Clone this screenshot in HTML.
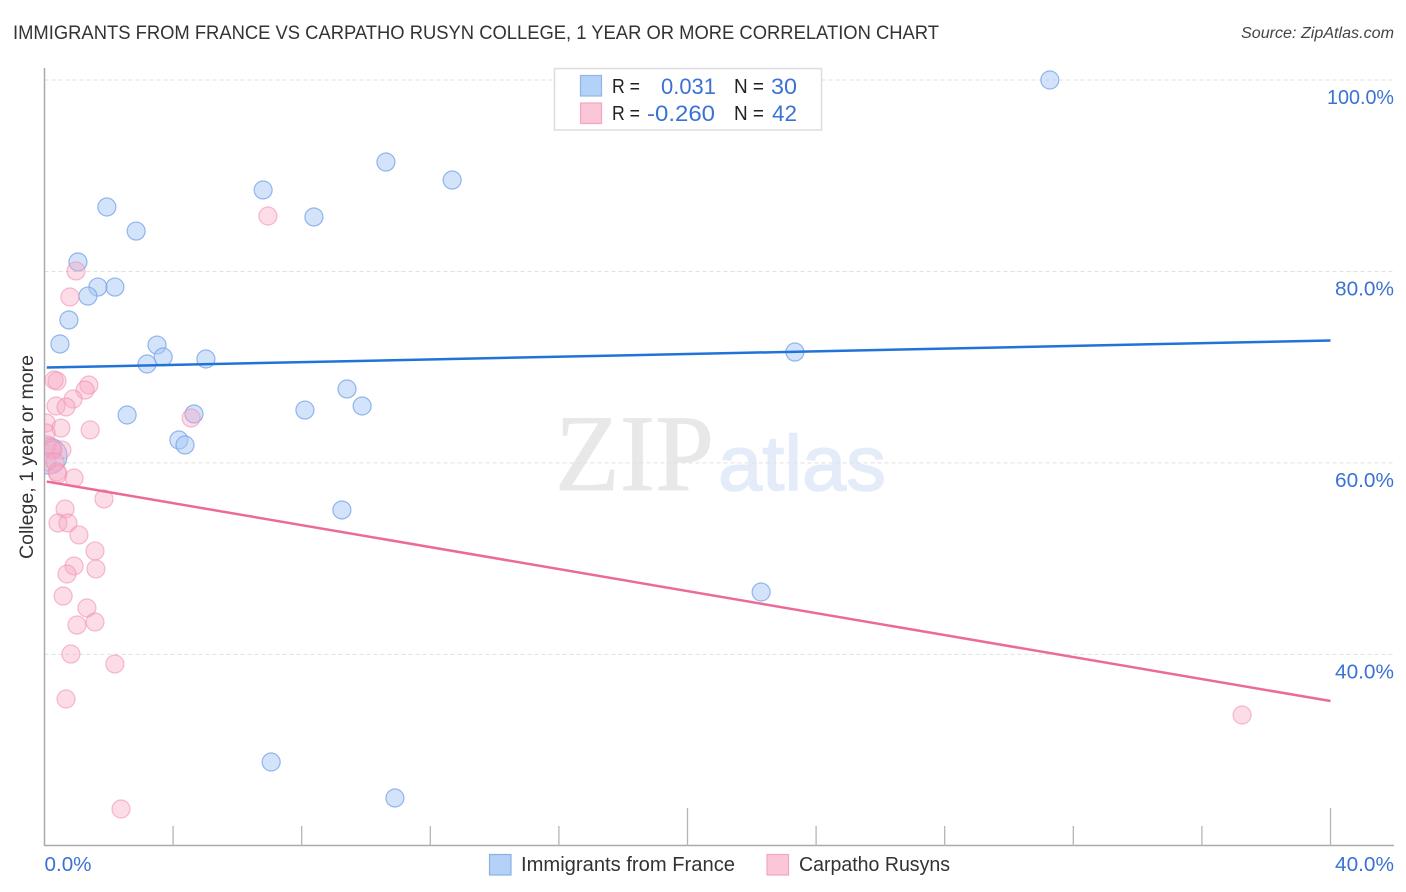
<!DOCTYPE html>
<html>
<head>
<meta charset="utf-8">
<title>Immigrants from France vs Carpatho Rusyn College Correlation Chart</title>
<style>
html,body{margin:0;padding:0;background:#fff;}
svg{display:block;}
text{font-family:"Liberation Sans",sans-serif;}
</style>
</head>
<body>
<svg id="chart" xmlns="http://www.w3.org/2000/svg" width="1406" height="892" viewBox="0 0 1406 892">
  <defs><clipPath id="plot-clip"><rect x="45" y="60" width="1350" height="785"/></clipPath></defs>
  <rect x="0" y="0" width="1406" height="892" fill="#fff"/>
  <text x="13" y="39" font-size="19.5" fill="#333" textLength="926" lengthAdjust="spacingAndGlyphs">IMMIGRANTS FROM FRANCE VS CARPATHO RUSYN COLLEGE, 1 YEAR OR MORE CORRELATION CHART</text>
  <text x="1241" y="38" font-size="15.5" font-style="italic" fill="#444" textLength="153" lengthAdjust="spacingAndGlyphs">Source: ZipAtlas.com</text>
  <g>
    <text x="555" y="490" font-size="109" fill="#e8e8e8" stroke="#e8e8e8" stroke-width="0.8" textLength="159" lengthAdjust="spacingAndGlyphs" style="font-family:'Liberation Serif',serif">ZIP</text>
    <text x="718" y="490" font-size="78" fill="#e4ecfa" stroke="#e4ecfa" stroke-width="1.5" textLength="168" lengthAdjust="spacingAndGlyphs">atlas</text>
  </g>
  <g id="grid"></g>
  <g id="axes"></g>
  <text transform="translate(33,457) rotate(-90)" font-size="19" fill="#333" text-anchor="middle" textLength="204" lengthAdjust="spacingAndGlyphs">College, 1 year or more</text>
  <g id="points-blue" clip-path="url(#plot-clip)"></g>
  <g id="points-pink" clip-path="url(#plot-clip)"></g>
  <g id="trends"></g>
  <g>
    <rect x="554.5" y="68.5" width="267" height="61.5" fill="#fff" stroke="#ddd" stroke-width="1.5"/>
    <rect x="580.5" y="75.5" width="21" height="20.5" fill="#b4d1f7" stroke="#8eb4e8" stroke-width="1.2"/>
    <rect x="580.5" y="103" width="21" height="20.5" fill="#fcc6d9" stroke="#f2a6c1" stroke-width="1.2"/>
    <text x="612" y="93" font-size="20" fill="#222" textLength="28" lengthAdjust="spacingAndGlyphs">R =</text>
    <text x="661" y="94" font-size="22" fill="#3b72d4" textLength="55" lengthAdjust="spacingAndGlyphs">0.031</text>
    <text x="734" y="93" font-size="20" fill="#222" textLength="30" lengthAdjust="spacingAndGlyphs">N =</text>
    <text x="771" y="94" font-size="22" fill="#3b72d4" textLength="26" lengthAdjust="spacingAndGlyphs">30</text>
    <text x="612" y="120" font-size="20" fill="#222" textLength="28" lengthAdjust="spacingAndGlyphs">R =</text>
    <text x="647" y="121" font-size="22" fill="#3b72d4" textLength="68" lengthAdjust="spacingAndGlyphs">-0.260</text>
    <text x="734" y="120" font-size="20" fill="#222" textLength="30" lengthAdjust="spacingAndGlyphs">N =</text>
    <text x="772" y="121" font-size="22" fill="#3b72d4" textLength="25" lengthAdjust="spacingAndGlyphs">42</text>
  </g>
  <g>
    <rect x="489.5" y="854.5" width="21.5" height="20.5" fill="#b4d1f7" stroke="#8eb0e0" stroke-width="1.2"/>
    <text x="521" y="871" font-size="20" fill="#333" textLength="214" lengthAdjust="spacingAndGlyphs">Immigrants from France</text>
    <rect x="767" y="854.5" width="21.5" height="20.5" fill="#fcc6d9" stroke="#f2a6c1" stroke-width="1.2"/>
    <text x="799" y="871" font-size="20" fill="#333" textLength="151" lengthAdjust="spacingAndGlyphs">Carpatho Rusyns</text>
  </g>
</svg>
<script>
const xTickValues = [0, 4, 8, 12, 16, 20, 24, 28, 32, 36, 40];
const xMajorTicks = [0, 20, 40];
const xTickLabels = ["0.0%", "40.0%"];
const xTickLabelValues = [0, 40];
const yTickValues = [100, 80, 60, 40];
const yTickLabels = ["100.0%", "80.0%", "60.0%", "40.0%"];

const franceX = [31.27,10.62,12.68,6.80,1.94,8.38,2.85,1.04,2.19,1.66,1.35,0.76,0.48,3.50,3.69,3.19,5.02,23.34,9.41,9.88,8.10,2.57,4.65,4.18,4.37,9.25,22.29,7.05,10.90,0.14];
const franceY = [100,91.43,89.55,88.51,86.73,85.69,84.22,80.99,78.37,78.37,77.43,74.93,72.42,72.31,71.06,70.33,70.85,71.58,67.72,65.94,65.52,65.00,65.11,62.39,61.87,55.08,46.51,28.75,24.99,60.72];
const franceWeight = [1,1,1,1,1,1,1,1,1,1,1,1,1,1,1,1,1,1,1,1,1,1,1,1,1,1,1,1,1,4];

const rusynX = [6.95,0.98,0.79,0.30,0.39,1.38,1.26,0.89,0.36,0.67,0.05,0.51,1.42,4.56,0.05,0.08,0.54,0.23,0.26,0.08,0.33,0.39,0.42,0.92,0.64,0.42,0.73,1.07,1.57,1.60,0.92,0.70,1.85,0.58,1.32,1.01,1.57,0.82,2.19,0.67,2.38,37.25];
const rusynY = [85.79,80.05,77.33,68.66,68.55,68.14,67.61,66.67,65.94,65.84,64.17,63.64,63.44,64.69,63.12,61.87,61.35,61.55,61.35,60.09,60.09,59.05,58.84,58.42,55.18,53.72,53.72,52.47,50.80,48.92,49.23,48.39,56.23,46.09,44.84,43.06,43.38,40.03,38.99,35.33,23.84,33.66];

const franceTrendX = [0.07, 40];
const franceTrendY = [69.96, 72.79];
const rusynTrendX = [0.07, 40];
const rusynTrendY = [58.05, 35.12];

const NS = "http://www.w3.org/2000/svg";
function xScale(v){ return 44.5 + v * 32.15; }
function yScale(v){ return 80 + (100 - v) * 9.572; }
function labelWidth(s){ return s.length === 4 ? 47 : (s.length === 5 ? 59 : 67); }
function make(tag, attrs, parent){
  const el = document.createElementNS(NS, tag);
  for (const k in attrs) el.setAttribute(k, attrs[k]);
  parent.appendChild(el);
  return el;
}
const grid = document.getElementById("grid");
const axes = document.getElementById("axes");

yTickValues.forEach(function(v, i){
  const line = make("line", {x1:44.5, x2:1394, y1:yScale(v), y2:yScale(v), stroke:"#e0e0e0", "stroke-width":1, "stroke-dasharray":"4 3"}, grid);
  
  
  const w = labelWidth(yTickLabels[i]);
  const label = make("text", {x:1394 - w, y:yScale(v) + 24, "font-size":20.5, fill:"#3b72d4", textLength:w, lengthAdjust:"spacingAndGlyphs"}, axes);
  label.textContent = yTickLabels[i];
  
  
});

const yAxis = make("line", {x1:44.5, x2:44.5, y1:68, y2:846, stroke:"#aaa", "stroke-width":1.5}, axes);


const xAxis = make("line", {x1:44, x2:1394, y1:845.5, y2:845.5, stroke:"#aaa", "stroke-width":1.5}, axes);



xTickValues.forEach(function(v){
  if (v === 0) return;
  const top = xMajorTicks.indexOf(v) >= 0 ? 808 : 826;
  const tick = make("line", {x1:xScale(v), x2:xScale(v), y1:top, y2:846, stroke:"#b5b5b5", "stroke-width":1.3}, axes);
  
  
});
xTickLabelValues.forEach(function(v, i){
  const anchorEnd = i === xTickLabelValues.length - 1;
  const w = labelWidth(xTickLabels[i]);
  const label = make("text", {x: anchorEnd ? 1394 - w : xScale(v), y:871, "font-size":20.5, fill:"#3b72d4", textLength:w, lengthAdjust:"spacingAndGlyphs"}, axes);
  label.textContent = xTickLabels[i];
  
  
});

const blueGroup = document.getElementById("points-blue");
franceX.forEach(function(v, i){
  const pt = make("circle", {cx:xScale(v), cy:yScale(franceY[i]), r:9 * Math.sqrt(franceWeight[i]), fill:"#a8c8f5", "fill-opacity":0.5, stroke:"#7aa5e8", "stroke-opacity":0.8, "stroke-width":1.2}, blueGroup);
  
  
});
const pinkGroup = document.getElementById("points-pink");
rusynX.forEach(function(v, i){
  const pt = make("circle", {cx:xScale(v), cy:yScale(rusynY[i]), r:9, fill:"#f7a8c4", "fill-opacity":0.4, stroke:"#f090b2", "stroke-opacity":0.6, "stroke-width":1.2}, pinkGroup);
  
  
});

const trends = document.getElementById("trends");
const blueTrend = make("line", {x1:xScale(franceTrendX[0]), y1:yScale(franceTrendY[0]), x2:xScale(franceTrendX[1]), y2:yScale(franceTrendY[1]), stroke:"#2273d8", "stroke-width":2.5}, trends);


const pinkTrend = make("line", {x1:xScale(rusynTrendX[0]), y1:yScale(rusynTrendY[0]), x2:xScale(rusynTrendX[1]), y2:yScale(rusynTrendY[1]), stroke:"#ec6a9a", "stroke-width":2.5}, trends);


</script>
</body>
</html>
